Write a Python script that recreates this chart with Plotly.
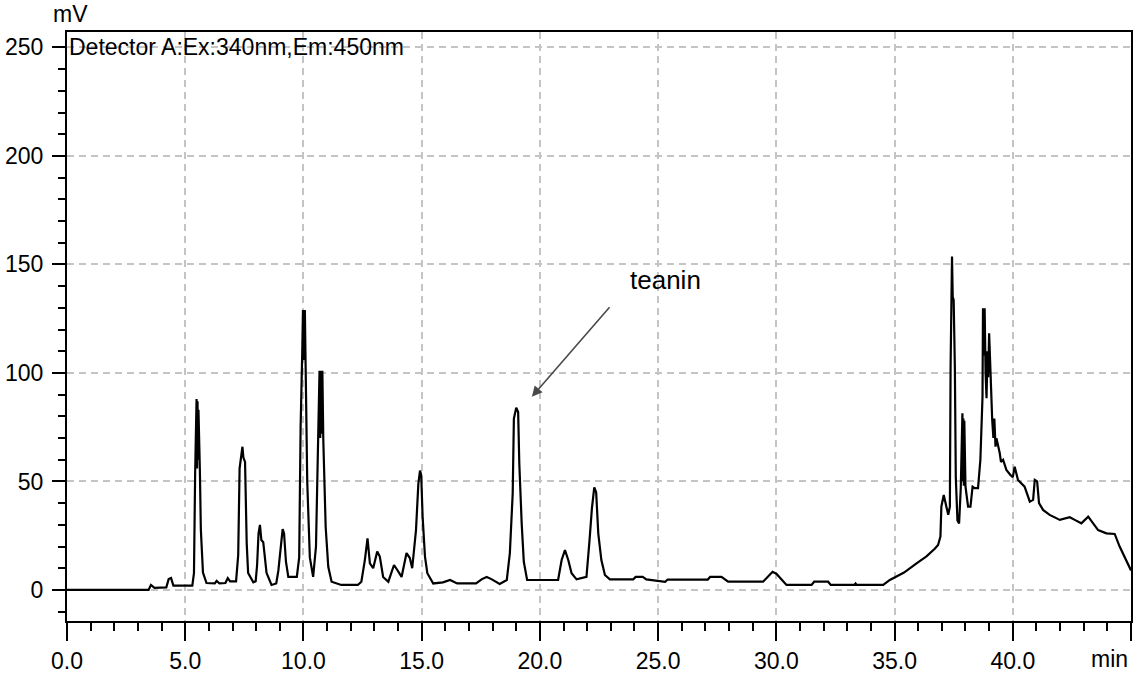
import plotly.graph_objects as go

# Retention time (min) and detector response (mV) of the chromatogram trace
time_min = [
    0.0, 3.45, 3.55, 3.7, 4.2, 4.3, 4.4, 4.5, 5.3, 5.37, 5.42, 5.48, 5.5, 5.52, 5.54, 5.56,
    5.62, 5.66, 5.75, 5.9, 6.25, 6.33, 6.45, 6.7, 6.8, 6.9, 7.15, 7.24, 7.3, 7.42, 7.46,
    7.53, 7.6, 7.66, 7.88, 7.98, 8.04, 8.1, 8.16, 8.22, 8.3, 8.44, 8.65, 8.85, 8.94, 9.05,
    9.12, 9.18, 9.26, 9.36, 9.72, 9.82, 9.88, 9.95, 9.98, 10.0, 10.02, 10.04, 10.06, 10.09,
    10.16, 10.27, 10.41, 10.53, 10.63, 10.68, 10.71, 10.74, 10.77, 10.8, 10.84, 10.94,
    11.05, 11.19, 11.6, 12.3, 12.45, 12.6, 12.71, 12.81, 12.95, 13.12, 13.23, 13.37,
    13.59, 13.83, 13.97, 14.15, 14.36, 14.5, 14.6, 14.76, 14.86, 14.93, 14.98, 15.04,
    15.14, 15.24, 15.49, 15.9, 16.2, 16.5, 17.3, 17.55, 17.75, 17.95, 18.3, 18.6, 18.73,
    18.85, 18.9, 19.0, 19.08, 19.13, 19.23, 19.32, 19.46, 20.77, 20.92, 21.06, 21.2,
    21.34, 21.55, 21.97, 22.1, 22.2, 22.3, 22.38, 22.47, 22.6, 22.75, 22.96, 23.95,
    24.05, 24.35, 24.5, 25.3, 25.4, 27.1, 27.2, 27.68, 27.96, 29.44, 29.84, 30.0, 30.43,
    31.49, 31.6, 32.19, 32.3, 33.3, 33.35, 33.4, 34.52, 34.8, 35.4, 35.93, 36.35, 36.7,
    36.84, 36.94, 36.98, 37.08, 37.17, 37.27, 37.34, 37.37, 37.43, 37.46, 37.5, 37.52,
    37.55, 37.59, 37.66, 37.73, 37.8, 37.87, 37.89, 37.91, 37.93, 37.95, 38.0, 38.11,
    38.21, 38.3, 38.39, 38.53, 38.63, 38.72, 38.74, 38.78, 38.81, 38.85, 38.89, 38.93,
    38.96, 39.0, 39.06, 39.1, 39.13, 39.18, 39.22, 39.27, 39.31, 39.45, 39.5, 39.59,
    39.73, 39.9, 40.0, 40.08, 40.22, 40.5, 40.72, 40.86, 40.93, 41.03, 41.11, 41.28,
    41.56, 41.99, 42.41, 42.62, 42.9, 43.19, 43.61, 43.96, 44.31, 44.52, 44.74, 44.95, 45.0,
]
signal_mv = [
    0.0, 0.0, 2.3, 1.0, 1.2, 5.0, 5.5, 2.0, 2.0, 7.7, 54, 88, 56, 87, 60, 83,
    55, 28, 8, 3.2, 3, 4.2, 3, 3.2, 5.5, 4, 4, 16, 56, 66, 61,
    59, 21.6, 7.8, 3.5, 4, 11.5, 26, 30, 23, 22, 7.8, 2.3, 3, 9, 23,
    28, 26, 13, 6, 6, 15, 75, 110, 129, 106, 129, 107, 129, 105,
    50, 15, 6, 20, 68, 101, 70, 101, 72, 101, 69, 29,
    10.7, 3.8, 2.3, 2.3, 3.8, 14, 23.8, 12.3, 10, 17.7, 15.4, 6,
    3.8, 11.5, 9.2, 6, 17, 14.7, 10, 27.6, 49, 55, 53, 33.8,
    15.4, 7.7, 3, 3.5, 4.6, 3, 3, 5, 6, 5, 2.8, 4.6, 17,
    44.5, 79, 84, 82, 58, 30.7, 13, 4.6, 4.6, 13.8, 18.4, 13.8,
    7.7, 4.9, 6, 23, 37.6, 47.3, 45, 26, 13.8, 6.9, 4.9, 4.9,
    6, 6, 4.9, 3.8, 4.8, 4.8, 6, 6, 3.8, 3.8, 8.4, 7.5, 2.3,
    2.3, 3.8, 3.8, 2.3, 2.3, 3, 2.3, 2.3, 4.6, 8, 12.3, 15.5, 19,
    20.7, 24.6, 38.4, 43.8, 40, 34.6, 38.4, 103, 153.6, 135, 133.6, 104,
    103, 52, 32, 30.7, 46.9, 81.4, 50, 79, 48, 78, 47.6, 38.4,
    38.4, 47.6, 46.9, 46.9, 60, 89, 129.8, 108, 129.8, 100, 88.3, 110,
    98, 118.3, 96.8, 85, 78.3, 70, 79, 66, 69.9, 63, 59, 60,
    55.3, 53, 52, 56.8, 50.7, 47.6, 40.7, 41.5, 50.7, 50, 40, 36.9,
    34.6, 32.3, 33.5, 32.3, 30.7, 33.8, 27.6, 26.1, 25.8, 20, 14.6, 10, 9,
]

x_ticks = [0, 5, 10, 15, 20, 25, 30, 35, 40, 45]
x_tick_labels = ["0.0", "5.0", "10.0", "15.0", "20.0", "25.0", "30.0", "35.0", "40.0", ""]
x_unit = "min"
y_ticks = [0, 50, 100, 150, 200, 250]
y_tick_labels = ["0", "50", "100", "150", "200", "250"]
y_unit = "mV"

FONT = "Liberation Sans, Arial, sans-serif"
GRID = "#c4c4c4"

fig = go.Figure()
fig.add_trace(go.Scatter(
    x=time_min, y=signal_mv, mode="lines",
    line=dict(color="black", width=2.2),
    hoverinfo="skip", showlegend=False,
))

axis_common = dict(
    showline=True, linecolor="black", linewidth=2, mirror=True,
    ticks="outside", tickcolor="black", tickwidth=2,
    showgrid=True, gridcolor=GRID, gridwidth=1.5, griddash="7px,5px",
    zeroline=False, automargin=False,
    tickfont=dict(family=FONT, size=23, color="black"),
)

fig.update_xaxes(
    range=[0, 45], tickmode="array", tickvals=x_ticks, ticktext=x_tick_labels,
    ticklen=18,
    minor=dict(tickmode="linear", tick0=0, dtick=1, ticks="outside",
               ticklen=8, tickcolor="black", tickwidth=2, showgrid=False),
    **axis_common,
)
fig.update_yaxes(
    range=[-14.3, 257.1], tickmode="array", tickvals=y_ticks, ticktext=y_tick_labels,
    ticklen=13, ticklabelstandoff=4,
    minor=dict(tickmode="linear", tick0=0, dtick=10, ticks="outside",
               ticklen=7, tickcolor="black", tickwidth=2, showgrid=False),
    **axis_common,
)

# unit labels at the axis ends
fig.add_annotation(
    x=0.999, y=-0.065, xref="paper", yref="paper", xanchor="right", yanchor="middle",
    text=x_unit, showarrow=False,
    font=dict(family=FONT, size=23, color="black"),
)
fig.add_annotation(
    x=0.003, y=1.0306, xref="paper", yref="paper", xanchor="center", yanchor="middle",
    text=y_unit, showarrow=False,
    font=dict(family=FONT, size=23, color="black"),
)

fig.add_annotation(
    x=0, y=250, xref="x", yref="y", xanchor="left", yanchor="middle",
    text="Detector A:Ex:340nm,Em:450nm", showarrow=False,
    font=dict(family=FONT, size=23, color="black"),
)
fig.add_annotation(
    x=25.3, y=143, xref="x", yref="y", text="teanin", showarrow=False,
    font=dict(family=FONT, size=26, color="black"),
)
fig.add_annotation(
    x=19.66, y=89, ax=23.0, ay=131, xref="x", yref="y", axref="x", ayref="y",
    text="", showarrow=True, arrowhead=2, arrowsize=1.3, arrowwidth=1.6,
    arrowcolor="#4a4a4a",
)

fig.update_layout(
    width=1144, height=682,
    margin=dict(l=67, r=13, t=32, b=61),
    paper_bgcolor="white", plot_bgcolor="white",
    font=dict(family=FONT, color="black"),
)

fig.write_html("out.html")
